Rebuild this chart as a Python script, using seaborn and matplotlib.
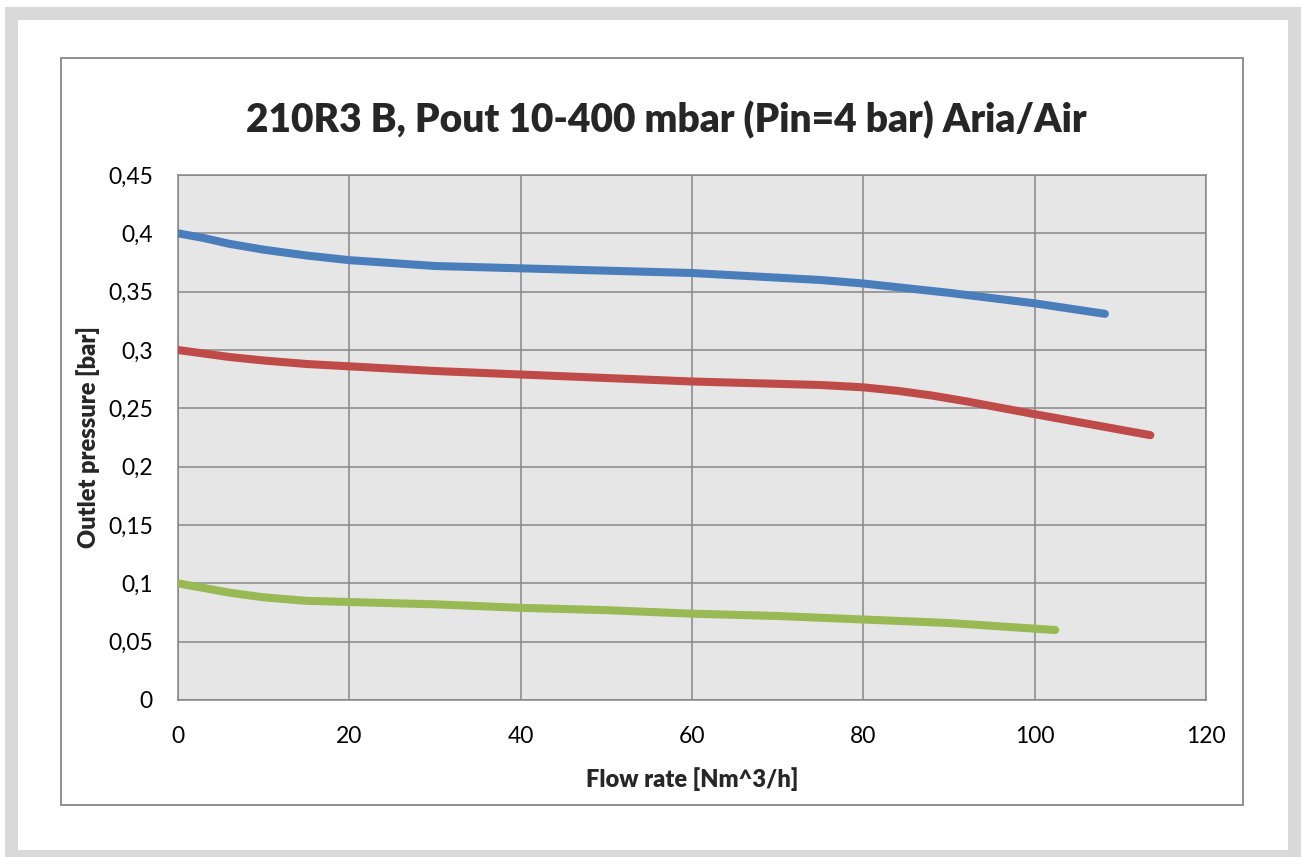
"""Outlet pressure vs flow rate curves for the 210R3 B regulator."""

import matplotlib.pyplot as plt
import pandas as pd
import seaborn as sns
from matplotlib.patches import Rectangle
from matplotlib.ticker import FuncFormatter, MultipleLocator

# Curves (flow in Nm^3/h, pressure in bar)
flow_400 = [0, 3, 6, 10, 15, 20, 30, 40, 50, 60, 70, 75, 80, 85, 90, 100, 108.2]
pout_400 = [0.400, 0.396, 0.391, 0.386, 0.381, 0.377, 0.372, 0.370, 0.368, 0.366, 0.362,
            0.360, 0.357, 0.353, 0.349, 0.340, 0.331]

flow_300 = [0, 3, 6, 10, 15, 20, 30, 40, 50, 60, 70, 75, 80, 84, 88, 92, 100, 113.5]
pout_300 = [0.300, 0.297, 0.294, 0.291, 0.288, 0.286, 0.282, 0.279, 0.276, 0.273, 0.271,
            0.270, 0.268, 0.265, 0.261, 0.256, 0.245, 0.227]

flow_100 = [0, 3, 6, 10, 15, 20, 30, 40, 50, 60, 70, 80, 90, 102.4]
pout_100 = [0.100, 0.096, 0.092, 0.088, 0.085, 0.084, 0.082, 0.079, 0.077, 0.074, 0.072,
            0.069, 0.066, 0.060]

series_names = ["400 mbar", "300 mbar", "100 mbar"]
series_colors = ["#4a7ebb", "#be4b48", "#98b954"]

TITLE = "210R3 B, Pout 10-400 mbar (Pin=4 bar) Aria/Air"
X_LABEL = "Flow rate [Nm^3/h]"
Y_LABEL = "Outlet pressure [bar]"

W, H = 1301, 857
GRID = "#878787"


def build_frame() -> pd.DataFrame:
    parts = []
    for name, xs, ys in zip(series_names,
                            [flow_400, flow_300, flow_100],
                            [pout_400, pout_300, pout_100]):
        parts.append(pd.DataFrame({"flow": xs, "pressure": ys, "series": name}))
    return pd.concat(parts, ignore_index=True)


def px_rect(x0, y0, x1, y1):
    """Figure-fraction rect from pixel corners (top-left origin)."""
    return (x0 / W, 1 - y1 / H), (x1 - x0) / W, (y1 - y0) / H


def comma(v, _pos):
    return f"{round(v, 2):g}".replace(".", ",")


def main() -> None:
    sns.set_theme(style="white")
    plt.rcParams["font.family"] = ["Lato", "DejaVu Sans"]

    fig = plt.figure(figsize=(W / 100, H / 100), dpi=100)

    # outer light-gray frame and inner chart border
    for (x0, y0, x1, y1, fc) in [(5, 7, W, H, "#d9d9d9"), (18, 20, 1288, 850, "white")]:
        xy, w, h = px_rect(x0, y0, x1, y1)
        fig.patches.append(Rectangle(xy, w, h, transform=fig.transFigure,
                                     facecolor=fc, edgecolor="none", zorder=-3))
    xy, w, h = px_rect(61, 58, 1243, 805)
    fig.patches.append(Rectangle(xy, w, h, transform=fig.transFigure,
                                 facecolor="none", edgecolor=GRID, lw=1.3, zorder=-1))

    ax = fig.add_axes([178 / W, 1 - 700 / H, (1206 - 178) / W, (700 - 175) / H])
    ax.set_facecolor("#e6e6e6")

    df = build_frame()
    sns.lineplot(data=df, x="flow", y="pressure", hue="series",
                 palette=series_colors, linewidth=5.8, legend=False,
                 solid_capstyle="round", solid_joinstyle="round", ax=ax, zorder=3)

    ax.set_xlim(0, 120)
    ax.set_ylim(0, 0.45)
    ax.xaxis.set_major_locator(MultipleLocator(20))
    ax.yaxis.set_major_locator(MultipleLocator(0.05))
    ax.yaxis.set_major_formatter(FuncFormatter(comma))
    ax.grid(True, color=GRID, linewidth=1.1)
    ax.set_axisbelow(True)
    for sp in ax.spines.values():
        sp.set_color(GRID)
        sp.set_linewidth(1.1)
    ax.tick_params(length=0, labelsize=16.5, colors="black")
    ax.tick_params(axis="x", pad=19)
    ax.tick_params(axis="y", pad=18)

    ax.set_xlabel(X_LABEL, fontsize=17, fontweight="heavy", labelpad=14)
    ax.set_ylabel(Y_LABEL, fontsize=17, fontweight="heavy", labelpad=6)
    fig.text((178 + 1206) / 2 / W - 0.02, 1 - 120 / H, TITLE,
             ha="center", va="center", fontsize=28, fontweight="heavy")

    fig.savefig("out.png", dpi=100)


if __name__ == "__main__":
    main()
